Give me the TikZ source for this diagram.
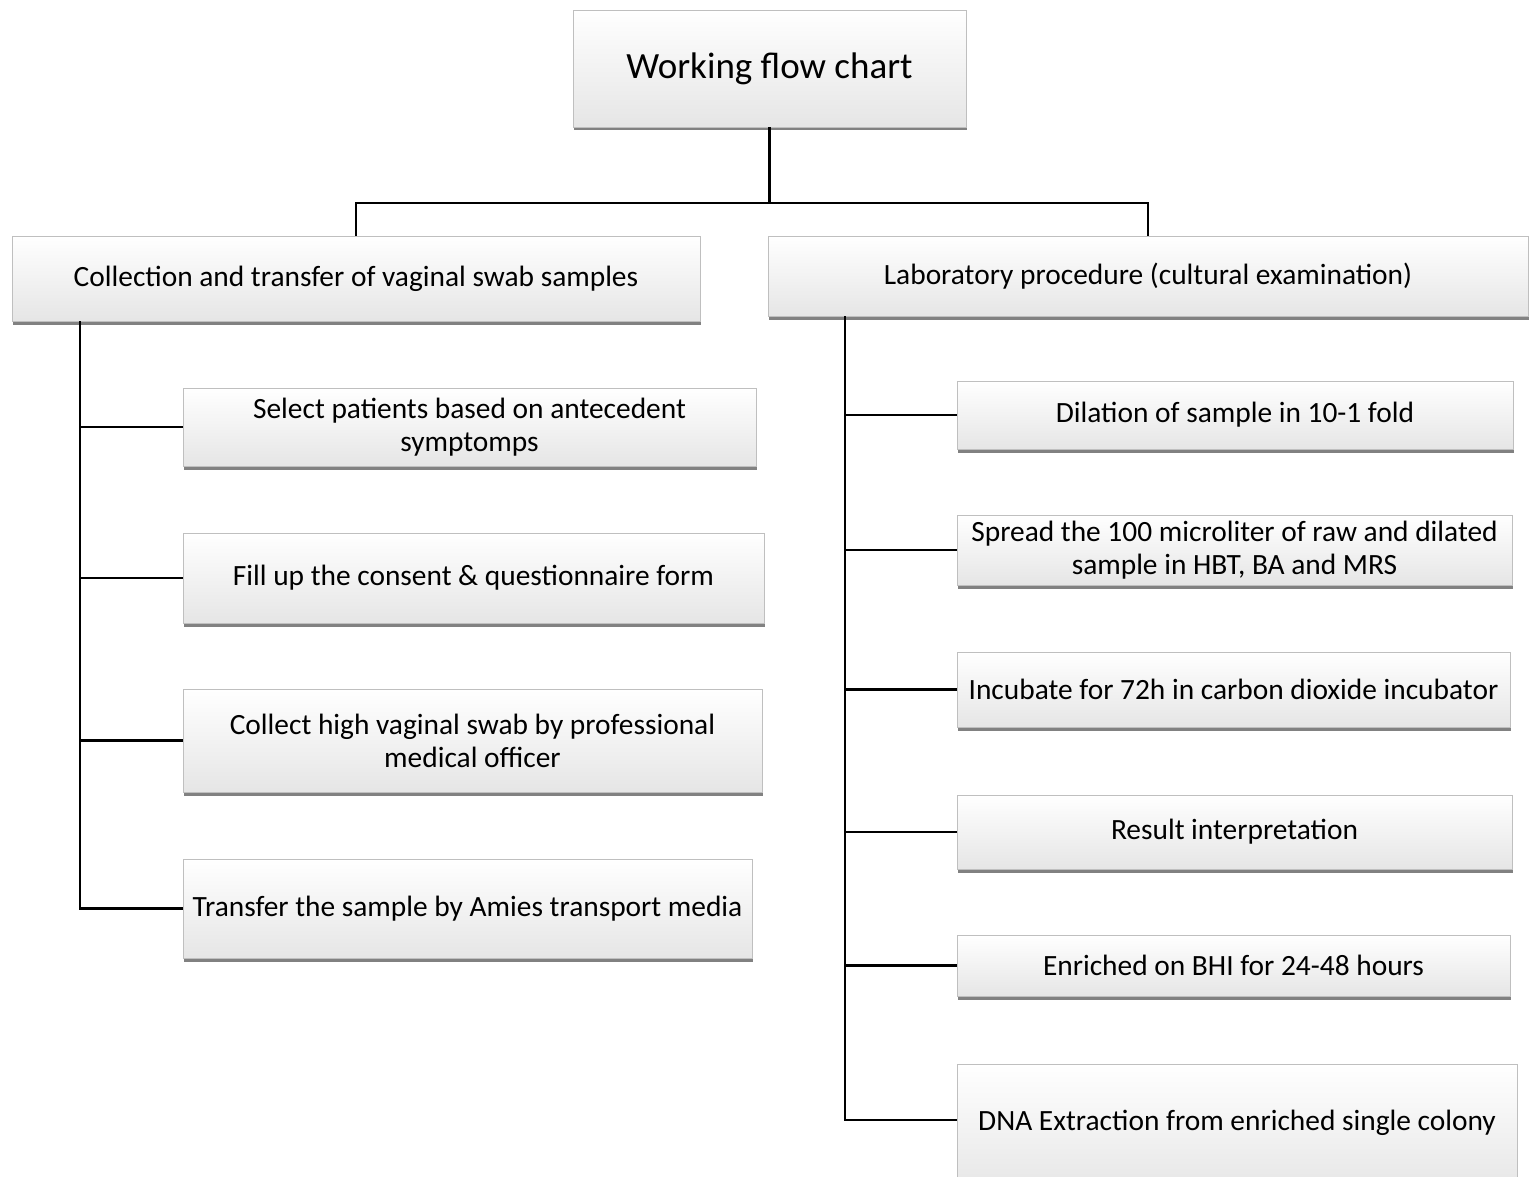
\documentclass[tikz,border=0pt]{standalone}
\usepackage{fontspec}
\setmainfont{Carlito}
\usepackage{tikz}
\usetikzlibrary{shadows,calc}

\tikzset{
  flowbox/.style={draw=black!25, line width=0.8pt, top color=white, bottom color=black!10,
    drop shadow={shadow xshift=0.5pt, shadow yshift=-3.5pt, fill=black!55, opacity=0.9},
    align=center, font=\fontsize{29.4}{33}\selectfont, inner sep=0pt},
  link/.style={black, line width=2.6pt}
}

\begin{document}
\begin{tikzpicture}[x=1pt, y=-1pt]
                \useasboundingbox (0,0) rectangle (1535,1177);

                %% title
                \node[flowbox, minimum width=393pt, minimum height=117pt, font=\fontsize{37}{44}\selectfont] (title) at (769.5,68.5) {Working flow chart};

                %% headers
                \node[flowbox, minimum width=688pt, minimum height=85pt] (colhead) at (356,278.5) {Collection and transfer of vaginal swab samples};
                \node[flowbox, minimum width=760pt, minimum height=80pt] (labhead) at (1148,276) {Laboratory procedure (cultural examination)};

                \coordinate (split) at (769.5,203);
                \draw[link] (title.south) -- (split);
                \draw[link] (colhead.north) |- (split) -| (labhead.north);

                %% collection
                \node[flowbox, minimum width=573pt, minimum height=78pt] (select) at (469.5,427) {Select patients based on antecedent\\symptomps};
                \node[flowbox, minimum width=581pt, minimum height=90pt] (consent) at (473.5,578) {Fill up the consent \& questionnaire form};
                \node[flowbox, minimum width=579pt, minimum height=103pt] (swab) at (472.5,740.5) {Collect high vaginal swab by professional\\medical officer};
                \node[flowbox, minimum width=569pt, minimum height=99pt] (transfer) at (467.5,908.5) {Transfer the sample by Amies transport media};

                \coordinate (colspine) at (80,321);
                \foreach \n in {select,consent,swab,transfer}
                  \draw[link] (colspine) |- (\n.west);

                %% laboratory
                \node[flowbox, minimum width=556pt, minimum height=68pt] (dilate) at (1235,415) {Dilation of sample in 10-1 fold};
                \node[flowbox, minimum width=555pt, minimum height=70pt] (spread) at (1234.5,550) {Spread the 100 microliter of raw and dilated\\sample in HBT, BA and MRS};
                \node[flowbox, minimum width=553pt, minimum height=75pt] (incubate) at (1233.5,689.5) {Incubate for 72h in carbon dioxide incubator};
                \node[flowbox, minimum width=555pt, minimum height=74pt] (result) at (1234.5,832) {Result interpretation};
                \node[flowbox, minimum width=553pt, minimum height=61pt] (enrich) at (1233.5,965.5) {Enriched on BHI for 24-48 hours};
                \node[flowbox, minimum width=560pt, minimum height=130pt] (dna) at (1237,1129) {\raisebox{18pt}{DNA Extraction from enriched single colony}};

                \coordinate (labspine) at (845,316);
                \foreach \n in {dilate,spread,incubate,result,enrich}
                  \draw[link] (labspine) |- (\n.west);
                \draw[link] (labspine) |- ($(dna.west)+(0,-9)$);

            \end{tikzpicture}
\end{document}
